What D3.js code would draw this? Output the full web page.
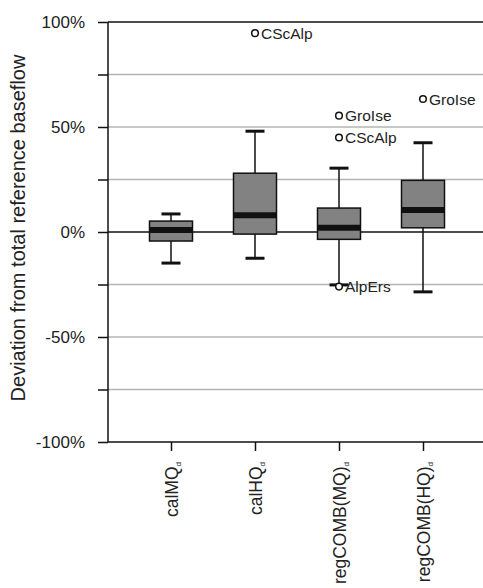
<!DOCTYPE html>
<html><head><meta charset="utf-8">
<script src="https://cdn.jsdelivr.net/npm/d3@7"></script>
<style>body{margin:0;background:#fff;}svg{display:block;font-family:Arial,"Liberation Sans",sans-serif;}</style>
</head><body>
<svg id="c" width="483" height="588"></svg>
<script>
const categories = ["calMQ", "calHQ", "regCOMB(MQ)", "regCOMB(HQ)"];
const whiskerLow  = [-14.8, -12.5, -25.2, -28.5];
const q1          = [-4.3, -1.0, -3.5, 2.0];
const median      = [1.0, 8.0, 2.0, 10.5];
const q3          = [5.2, 28.0, 11.4, 24.6];
const whiskerHigh = [8.6, 48.0, 30.4, 42.5];
const outlierCat   = ["calHQ", "regCOMB(MQ)", "regCOMB(MQ)", "regCOMB(MQ)", "regCOMB(HQ)"];
const outlierVal   = [94.7, 55.4, 45.0, -26.0, 63.3];
const outlierLabel = ["CScAlp", "GroIse", "CScAlp", "AlpErs", "GroIse"];
const yTicks = [100, 75, 50, 25, 0, -25, -50, -75, -100];
const yTickLabels = ["100%", "", "50%", "", "0%", "", "-50%", "", "-100%"];

const svg = d3.select("#c");
const L = 108, R = 486, T = 22, B = 442;
const x = d3.scalePoint().domain(categories).range([L, R]).padding(0.75);
const y = d3.scaleLinear().domain([-100, 100]).range([B, T]);

// grid
svg.append("g").selectAll("line").data(yTicks.filter(v => v !== 0 && v !== 100 && v !== -100))
  .join("line").attr("x1", L).attr("x2", 483).attr("y1", d => y(d)).attr("y2", d => y(d))
  .attr("stroke", "#b4b4b4").attr("stroke-width", 1.5);
svg.append("line").attr("x1", L).attr("x2", 483).attr("y1", y(0)).attr("y2", y(0)).attr("stroke", "#111").attr("stroke-width", 1.5);
svg.append("line").attr("x1", L).attr("x2", 483).attr("y1", y(100)).attr("y2", y(100)).attr("stroke", "#111").attr("stroke-width", 1.5);

// y axis
const yAxis = d3.axisLeft(y).tickValues(yTicks).tickFormat((d, i) => yTickLabels[i]).tickSize(10).tickPadding(13);
const gy = svg.append("g").attr("transform", `translate(${L},0)`).call(yAxis);
gy.select(".domain").attr("stroke", "#111").attr("stroke-width", 1.5).attr("d", `M0,${T}V${B}`);
gy.selectAll(".tick line").attr("stroke", "#111").attr("stroke-width", 1.5);
gy.selectAll(".tick text").attr("font-size", 17).attr("fill", "#222").style("font-family", "Arial, 'Liberation Sans', sans-serif");

// x axis
const xAxis = d3.axisBottom(x).tickSize(9).tickFormat("");
const gx = svg.append("g").attr("transform", `translate(0,${B})`).call(xAxis);
gx.select(".domain").attr("stroke", "#111").attr("stroke-width", 1.5).attr("d", `M${L},0H483`);
gx.selectAll(".tick line").attr("stroke", "#111").attr("stroke-width", 1.5);

// x labels rotated with subscript d
categories.forEach(c => {
  const t = svg.append("text")
    .attr("transform", `translate(${x(c) + 7},462) rotate(-90)`)
    .attr("text-anchor", "end").attr("font-size", 17.5).attr("fill", "#222");
  t.append("tspan").text(c);
  t.append("tspan").attr("font-size", 8).attr("dy", 3).text("d");
});

// y label
svg.append("text").attr("transform", `translate(25,228) rotate(-90)`)
  .attr("text-anchor", "middle").attr("font-size", 20).attr("fill", "#222")
  .text("Deviation from total reference baseflow");

// boxes
const bw = 43, cw = 19;
const g = svg.append("g");
categories.forEach((c, i) => {
  const cx = x(c);
  g.append("line").attr("x1", cx).attr("x2", cx).attr("y1", y(whiskerHigh[i])).attr("y2", y(whiskerLow[i]))
    .attr("stroke", "#111").attr("stroke-width", 1.5);
  [whiskerHigh[i], whiskerLow[i]].forEach(v => {
    g.append("line").attr("x1", cx - cw / 2).attr("x2", cx + cw / 2).attr("y1", y(v)).attr("y2", y(v))
      .attr("stroke", "#111").attr("stroke-width", 3);
  });
  g.append("rect").attr("x", cx - bw / 2).attr("width", bw).attr("y", y(q3[i])).attr("height", y(q1[i]) - y(q3[i]))
    .attr("fill", "#828282").attr("stroke", "#111").attr("stroke-width", 1.5);
  g.append("line").attr("x1", cx - bw / 2).attr("x2", cx + bw / 2).attr("y1", y(median[i])).attr("y2", y(median[i]))
    .attr("stroke", "#111").attr("stroke-width", 6);
});

// outliers
outlierCat.forEach((c, i) => {
  const cx = x(c), cy = y(outlierVal[i]);
  g.append("circle").attr("cx", cx).attr("cy", cy).attr("r", 3.3)
    .attr("fill", "#fff").attr("stroke", "#111").attr("stroke-width", 1.5);
  g.append("text").attr("x", cx + 6).attr("y", cy + 5.5).attr("font-size", 15.5).attr("fill", "#222").text(outlierLabel[i]);
});
</script>
</body></html>
